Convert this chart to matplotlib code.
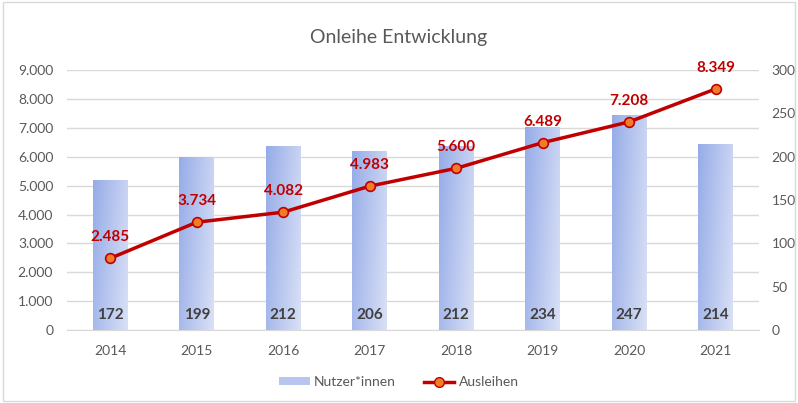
import numpy as np
import matplotlib.pyplot as plt
from matplotlib.patches import Rectangle
from matplotlib.lines import Line2D

plt.rcParams['font.family'] = ['Lato', 'DejaVu Sans']

years = ['2014', '2015', '2016', '2017', '2018', '2019', '2020', '2021']
nutzer = [172, 199, 212, 206, 212, 234, 247, 214]
ausleihen = [2485, 3734, 4082, 4983, 5600, 6489, 7208, 8349]


def de(v):
    return '{:,}'.format(int(v)).replace(',', '.')


grey = '#595959'
red = '#c00000'

fig = plt.figure(figsize=(7.98, 4.03), dpi=100)
fig.patches.append(Rectangle((0.004, 0.004), 0.992, 0.99, transform=fig.transFigure,
                             fill=False, edgecolor='#d9d9d9', lw=1))

ax = fig.add_axes([0.084, 0.181, 0.867, 0.645])
x = np.arange(len(years))

# left axis: grid + ticks
ax.set_ylim(0, 9000)
ax.set_yticks(range(0, 9001, 1000))
ax.set_yticklabels([de(v) for v in range(0, 9001, 1000)])
ax.grid(axis='y', color='#d9d9d9', lw=1)
ax.set_axisbelow(True)
ax.set_xlim(-0.5, len(years) - 0.5)
ax.set_xticks(x)
ax.set_xticklabels(years)
ax.tick_params(length=0, labelcolor=grey, labelsize=10)
ax.tick_params(axis='y', pad=10)
ax.tick_params(axis='x', pad=11)
for s in ['top', 'left', 'right']:
    ax.spines[s].set_visible(False)
ax.spines['bottom'].set_color('#d9d9d9')

# right axis: bars with gradient
ax2 = ax.twinx()
ax2.set_ylim(0, 300)
ax2.set_yticks(range(0, 301, 50))
ax2.tick_params(length=0, labelcolor=grey, labelsize=10, pad=9)
for s in ax2.spines.values():
    s.set_visible(False)

bw = 0.4
grad = np.linspace(0, 1, 64)
gx, gy = np.meshgrid(grad, grad)
t = np.clip(0.75 * gx + 0.25 * gy, 0, 1)
c0 = np.array([150, 172, 232]) / 255
c1 = np.array([218, 225, 246]) / 255
img = c0 + (c1 - c0) * t[..., None]
for i, v in enumerate(nutzer):
    ax2.imshow(img, extent=[i - bw / 2, i + bw / 2, 0, v], aspect='auto',
               origin='upper', zorder=1, interpolation='bilinear')
    ax2.annotate(str(v), xy=(i, 0), xytext=(0, 11), textcoords='offset points',
                 ha='center', va='center', fontsize=11, fontweight='bold', color='#404040')
ax2.set_xlim(-0.5, len(years) - 0.5)
ax2.set_ylim(0, 300)

# line axis on top
ax3 = ax.twinx()
ax3.set_ylim(0, 9000)
ax3.set_yticks([])
for s in ax3.spines.values():
    s.set_visible(False)
ax3.plot(x, ausleihen, color=red, lw=2.5, marker='o', markersize=7,
         markerfacecolor='#f07c28', markeredgecolor=red, markeredgewidth=1.2, zorder=3)
for i, v in enumerate(ausleihen):
    ax3.annotate(de(v), xy=(i, v), xytext=(0, 15), textcoords='offset points',
                 ha='center', va='center', fontsize=11, fontweight='bold', color=red)
ax3.set_xlim(-0.5, len(years) - 0.5)

fig.text(0.5, 0.908, 'Onleihe Entwicklung', ha='center', va='center',
         fontsize=14, color=grey)

handles = [Rectangle((0, 0), 1, 1, facecolor='#b8c6ef', edgecolor='none'),
           Line2D([], [], color=red, lw=2.5, marker='o', markersize=7,
                  markerfacecolor='#f07c28', markeredgecolor=red)]
fig.legend(handles, ['Nutzer*innen', 'Ausleihen'], loc='center', bbox_to_anchor=(0.5, 0.052),
           ncol=2, frameon=False, fontsize=10, labelcolor=grey, handlelength=2.2,
           handleheight=0.5, columnspacing=2.0, handletextpad=0.3)

fig.savefig('out.png', dpi=100)
